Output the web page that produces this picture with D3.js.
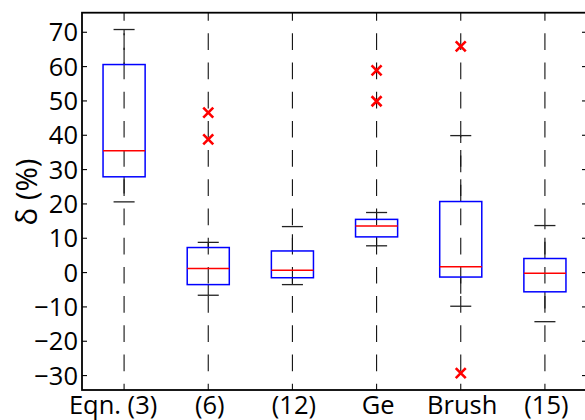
<!DOCTYPE html>
<html>
<head>
<meta charset="utf-8">
<script src="https://cdn.jsdelivr.net/npm/d3@7"></script>
<style>
  html, body { margin: 0; padding: 0; background: #fff; }
  svg { display: block; }
  text { font-family: "Open Sans", sans-serif; fill: #000; }
</style>
</head>
<body>
<svg id="chart" width="585" height="420"></svg>
<script>
// Box statistics per method (relative deviation δ in %)
const categories  = ["Eqn. (3)", "(6)", "(12)", "Ge", "Brush", "(15)"];
const q1          = [27.9, -3.5, -1.5, 10.4, -1.3, -5.6];
const median      = [35.5,  1.2,  0.7, 13.6,  1.7, -0.2];
const q3          = [60.6,  7.3,  6.3, 15.5, 20.7,  4.1];
const whiskerLow  = [20.6, -6.6, -3.5,  7.8, -9.8, -14.3];
const whiskerHigh = [70.8,  8.8, 13.4, 17.5, 39.9, 13.7];
const outliers    = [[], [46.6, 38.8], [], [58.9, 49.9], [65.9, -29.3], []];
const yTicks      = [-30, -20, -10, 0, 10, 20, 30, 40, 50, 60, 70];
const yLabel      = "δ (%)";

const svg = d3.select("#chart");
const plotLeft = 82, plotRight = 587, plotTop = 12.7, plotBottom = 390;

const x = d3.scaleLinear().domain([0.5, categories.length + 0.5]).range([plotLeft, plotRight]);
const y = d3.scaleLinear().domain([-34.2, 75.7]).range([plotBottom, plotTop]);

const rows = categories.map((c, i) => ({
  name: c, pos: i + 1,
  q1: q1[i], med: median[i], q3: q3[i],
  lo: whiskerLow[i], hi: whiskerHigh[i], out: outliers[i]
}));

const boxHalf = 0.25, capHalf = 0.125;
const dash = "16.7 12.5";

// vertical dashed grid at each category
svg.append("g").selectAll("line").data(rows).join("line")
  .attr("x1", d => x(d.pos)).attr("x2", d => x(d.pos))
  .attr("y1", plotTop).attr("y2", plotBottom)
  .attr("stroke", "#111").attr("stroke-width", 1.1)
  .attr("stroke-dasharray", dash).attr("stroke-dashoffset", 8.6);

// whiskers (dashed, starting from the box edge)
const wh = svg.append("g");
wh.selectAll("line.up").data(rows).join("line").attr("class", "up")
  .attr("x1", d => x(d.pos)).attr("x2", d => x(d.pos))
  .attr("y1", d => y(d.q3)).attr("y2", d => y(d.hi))
  .attr("stroke", "#111").attr("stroke-width", 1.1).attr("stroke-dasharray", dash);
wh.selectAll("line.down").data(rows).join("line").attr("class", "down")
  .attr("x1", d => x(d.pos)).attr("x2", d => x(d.pos))
  .attr("y1", d => y(d.q1)).attr("y2", d => y(d.lo))
  .attr("stroke", "#111").attr("stroke-width", 1.1).attr("stroke-dasharray", dash);

// caps
const caps = svg.append("g").attr("stroke", "#222").attr("stroke-width", 1.3);
caps.selectAll("line.hi").data(rows).join("line").attr("class", "hi")
  .attr("x1", d => x(d.pos - capHalf)).attr("x2", d => x(d.pos + capHalf))
  .attr("y1", d => y(d.hi)).attr("y2", d => y(d.hi));
caps.selectAll("line.lo").data(rows).join("line").attr("class", "lo")
  .attr("x1", d => x(d.pos - capHalf)).attr("x2", d => x(d.pos + capHalf))
  .attr("y1", d => y(d.lo)).attr("y2", d => y(d.lo));

// boxes
svg.append("g").selectAll("rect").data(rows).join("rect")
  .attr("x", d => x(d.pos - boxHalf))
  .attr("width", d => x(d.pos + boxHalf) - x(d.pos - boxHalf))
  .attr("y", d => y(d.q3))
  .attr("height", d => y(d.q1) - y(d.q3))
  .attr("fill", "none").attr("stroke", "#0000ff").attr("stroke-width", 1.5);

// medians
svg.append("g").selectAll("line").data(rows).join("line")
  .attr("x1", d => x(d.pos - boxHalf)).attr("x2", d => x(d.pos + boxHalf))
  .attr("y1", d => y(d.med)).attr("y2", d => y(d.med))
  .attr("stroke", "#ff0000").attr("stroke-width", 1.5);

// outliers as red crosses
const fliers = rows.flatMap(d => d.out.map(v => ({ pos: d.pos, v })));
const s = 5;
svg.append("g").selectAll("path").data(fliers).join("path")
  .attr("d", d => {
    const cx = x(d.pos), cy = y(d.v);
    return `M${cx - s},${cy - s}L${cx + s},${cy + s}M${cx - s},${cy + s}L${cx + s},${cy - s}`;
  })
  .attr("stroke", "#ff0000").attr("stroke-width", 2.6).attr("fill", "none");

// inward ticks on left and right spines
const tk = svg.append("g").attr("stroke", "#000").attr("stroke-width", 1.1);
tk.selectAll("line.l").data(yTicks).join("line").attr("class", "l")
  .attr("x1", plotLeft).attr("x2", plotLeft + 5).attr("y1", d => y(d)).attr("y2", d => y(d));
tk.selectAll("line.r").data(yTicks).join("line").attr("class", "r")
  .attr("x1", plotRight).attr("x2", plotRight - 5).attr("y1", d => y(d)).attr("y2", d => y(d));

// y tick labels
const fmt = d3.format("d");
svg.append("g").selectAll("text").data(yTicks).join("text")
  .attr("x", plotLeft - 4).attr("y", d => y(d)).attr("dy", "0.36em")
  .attr("text-anchor", "end").attr("font-size", 25.5)
  .text(d => fmt(d));

// x tick labels (the first, longer label sits slightly left of its tick)
svg.append("g").selectAll("text").data(rows).join("text")
  .attr("x", d => x(d.pos)).attr("y", 414)
  .attr("dx", (d, i) => i === 0 ? -11 : 1.5)
  .attr("text-anchor", "middle").attr("font-size", 25.5)
  .text(d => d.name);

// y axis title
svg.append("text")
  .attr("transform", `translate(37,192) rotate(-90)`)
  .attr("text-anchor", "middle").attr("font-size", 29.5)
  .text(yLabel);

// frame
svg.append("rect")
  .attr("x", plotLeft).attr("y", plotTop)
  .attr("width", plotRight - plotLeft).attr("height", plotBottom - plotTop)
  .attr("fill", "none").attr("stroke", "#000").attr("stroke-width", 1.8);
</script>
</body>
</html>
